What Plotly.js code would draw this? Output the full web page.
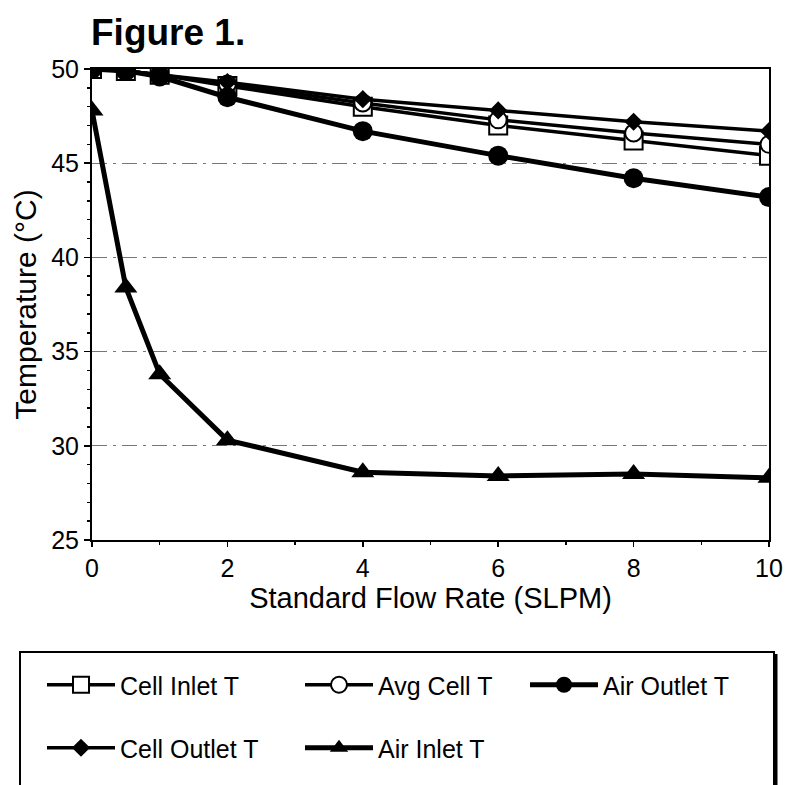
<!DOCTYPE html>
<html>
<head>
<meta charset="utf-8">
<script src="https://cdn.plot.ly/plotly-3.0.1.min.js"></script>
<style>html,body{margin:0;padding:0;background:#fff;}#chart{width:786px;height:785px;}</style>
</head>
<body>
<div id="chart"></div>
<script>
const flow = [0, 0.5, 1, 2, 4, 6, 8, 10];
const cellInletT  = [50.0, 49.9, 49.7, 49.1, 48.0, 47.0, 46.2, 45.4];
const avgCellT    = [50.0, 49.9, 49.7, 49.2, 48.2, 47.3, 46.6, 46.0];
const airOutletT  = [50.0, 49.9, 49.6, 48.5, 46.7, 45.4, 44.2, 43.2];
const cellOutletT = [50.0, 49.9, 49.7, 49.3, 48.4, 47.8, 47.2, 46.7];
const airInletT   = [47.8, 38.4, 33.8, 30.3, 28.6, 28.4, 28.5, 28.3];
const seriesNames = ["Cell Inlet T", "Avg Cell T", "Air Outlet T", "Cell Outlet T", "Air Inlet T"];
const xTicks = [0, 2, 4, 6, 8, 10];
const yTicks = [25, 30, 35, 40, 45, 50];

const FONT = "Liberation Sans, Arial, sans-serif";

const traces = [
  {x: flow, y: cellInletT, name: seriesNames[0], mode: "lines+markers", legend: "legend",
   line: {color: "#000", width: 3.5},
   marker: {symbol: "square", size: 18, color: "#fff", line: {color: "#000", width: 2}}},
  {x: flow, y: avgCellT, name: seriesNames[1], mode: "lines+markers", legend: "legend2",
   line: {color: "#000", width: 3.5},
   marker: {symbol: "circle", size: 17, color: "#fff", line: {color: "#000", width: 2}}},
  {x: flow, y: cellOutletT, name: seriesNames[3], mode: "lines+markers", legend: "legend4",
   line: {color: "#000", width: 3.5},
   marker: {symbol: "diamond", size: 14, color: "#000"}},
  {x: flow, y: airOutletT, name: seriesNames[2], mode: "lines+markers", legend: "legend3",
   line: {color: "#000", width: 5},
   marker: {symbol: "circle", size: 20, color: "#000"}},
  {x: flow, y: airInletT, name: seriesNames[4], mode: "lines+markers", legend: "legend5",
   line: {color: "#000", width: 5},
   marker: {symbol: "triangle-up", size: 20, color: "#000"}}
];

function legendAt(px, py) {
  return {
    orientation: "h", xref: "container", yref: "container",
    x: px / 786, y: 1 - py / 785, xanchor: "left", yanchor: "middle",
    bgcolor: "rgba(0,0,0,0)", borderwidth: 0,
    font: {family: FONT, size: 25, color: "#000"},
    itemwidth: 68
  };
}

const axisCommon = {
  showline: true, linecolor: "#000", linewidth: 2,
  tickcolor: "#000", tickwidth: 1.5, zeroline: false
};

const layout = {
  width: 786, height: 785,
  margin: {l: 92, r: 17, t: 69, b: 245},
  paper_bgcolor: "#fff", plot_bgcolor: "#fff",
  font: {family: FONT, color: "#000"},
  title: {text: "<b>Figure 1.</b>", font: {family: FONT, size: 37, color: "#000"},
          xref: "container", yref: "container", x: 91/786, xanchor: "left", y: 1 - 32/785, yanchor: "middle"},
  xaxis: Object.assign({}, axisCommon, {
    range: [0, 10], tickvals: xTicks, ticktext: xTicks.map(String), mirror: true,
    ticks: "outside", ticklen: 5,
    minor: {dtick: 1, ticks: "outside", ticklen: 3, tickcolor: "#000", showgrid: false},
    showgrid: false,
    tickfont: {family: FONT, size: 25},
    title: {text: "Standard Flow Rate (SLPM)", font: {family: FONT, size: 29}, standoff: 6}
  }),
  xaxis2: Object.assign({}, axisCommon, {
    range: [0, 10], overlaying: "x", anchor: "y", side: "bottom",
    tickvals: xTicks, showticklabels: false, ticks: "inside", ticklen: 6,
    minor: {dtick: 1, ticks: "inside", ticklen: 4, tickcolor: "#000", showgrid: false},
    showgrid: false, showline: false
  }),
  yaxis: Object.assign({}, axisCommon, {
    range: [25, 50], tickvals: yTicks, ticktext: yTicks.map(String), mirror: true,
    ticks: "outside", ticklen: 6,
    minor: {dtick: 1, ticks: "outside", ticklen: 3, tickcolor: "#000", showgrid: false},
    showgrid: true, gridcolor: "#777", gridwidth: 1.2, griddash: "longdashdot",
    tickfont: {family: FONT, size: 25},
    title: {text: "Temperature (°C)", font: {family: FONT, size: 30}, standoff: 6}
  }),
  yaxis2: Object.assign({}, axisCommon, {
    range: [25, 50], overlaying: "y", anchor: "x", side: "left",
    tickvals: yTicks, showticklabels: false, ticks: "inside", ticklen: 6,
    minor: {dtick: 1, ticks: "inside", ticklen: 4, tickcolor: "#000", showgrid: false},
    showgrid: false, showline: false
  }),
  legend: legendAt(42, 685),
  legend2: legendAt(300, 685),
  legend3: legendAt(525, 685),
  legend4: legendAt(42, 748),
  legend5: legendAt(300, 748),
  shapes: [
    {type: "rect", xref: "paper", yref: "paper",
     x0: (20-92)/677, x1: (774-92)/677, y0: (540-800)/471, y1: (540-652)/471,
     line: {color: "#000", width: 2}, fillcolor: "rgba(0,0,0,0)", layer: "above"},
    {type: "line", xref: "paper", yref: "paper",
     x0: (776-92)/677, x1: (776-92)/677, y0: (540-800)/471, y1: (540-654)/471,
     line: {color: "#000", width: 3}}
  ],
  showlegend: true
};

Plotly.newPlot("chart", traces, layout, {displayModeBar: false, staticPlot: true});
</script>
</body>
</html>
